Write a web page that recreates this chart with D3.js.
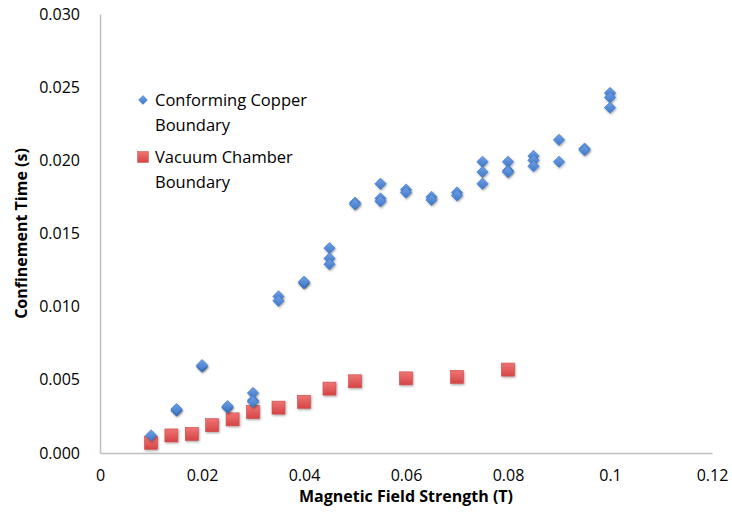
<!DOCTYPE html>
<html>
<head>
<meta charset="utf-8">
<script src="https://cdn.jsdelivr.net/npm/d3@7"></script>
<style>
  html, body { margin: 0; padding: 0; background: #fff; }
  svg { display: block; }
  text { font-family: "Open Sans", "Noto Sans", sans-serif; fill: #000; }
</style>
</head>
<body>
<svg id="chart" width="732" height="512"></svg>
<script>
// ---- data ----
const copperX = [0.01, 0.015, 0.015, 0.02, 0.02, 0.025, 0.025, 0.03, 0.03, 0.03,
  0.035, 0.035, 0.04, 0.04, 0.045, 0.045, 0.045, 0.05, 0.05,
  0.055, 0.055, 0.055, 0.06, 0.06, 0.065, 0.065, 0.07, 0.07,
  0.075, 0.075, 0.075, 0.08, 0.08, 0.08, 0.085, 0.085, 0.085,
  0.09, 0.09, 0.095, 0.095, 0.1, 0.1, 0.1];
const copperY = [0.0012, 0.0029, 0.0030, 0.0059, 0.0060, 0.0031, 0.0032, 0.0041, 0.0036, 0.0035,
  0.0107, 0.0104, 0.0116, 0.0117, 0.0140, 0.0133, 0.0129, 0.0171, 0.0170,
  0.0184, 0.0174, 0.0172, 0.0180, 0.0178, 0.0175, 0.0173, 0.0178, 0.0176,
  0.0199, 0.0192, 0.0184, 0.0199, 0.0193, 0.0192, 0.0203, 0.0200, 0.0196,
  0.0214, 0.0199, 0.0208, 0.0207, 0.0246, 0.0243, 0.0236];
const vacuumX = [0.01, 0.014, 0.018, 0.022, 0.026, 0.03, 0.035, 0.04, 0.045, 0.05, 0.06, 0.07, 0.08];
const vacuumY = [0.0007, 0.0012, 0.0013, 0.0019, 0.0023, 0.0028, 0.0031, 0.0035, 0.0044, 0.0049, 0.0051, 0.0052, 0.0057];
const xTicks = [0, 0.02, 0.04, 0.06, 0.08, 0.1, 0.12];
const xTickLabels = ["0", "0.02", "0.04", "0.06", "0.08", "0.1", "0.12"];
const yTicks = [0, 0.005, 0.01, 0.015, 0.02, 0.025, 0.03];
const yTickLabels = ["0.000", "0.005", "0.010", "0.015", "0.020", "0.025", "0.030"];
const seriesNames = ["Conforming Copper\nBoundary", "Vacuum Chamber\nBoundary"];
const xTitle = "Magnetic Field Strength (T)";
const yTitle = "Confinement Time (s)";

// ---- layout ----
const svg = d3.select("#chart");
const pLeft = 100, pRight = 712, pTop = 14, pBottom = 453;
const x = d3.scaleLinear().domain([0, 0.12]).range([pLeft, pRight]);
const y = d3.scaleLinear().domain([0, 0.03]).range([pBottom, pTop]);

const defs = svg.append("defs");
const gb = defs.append("linearGradient").attr("id", "gBlue").attr("x1", 0).attr("y1", 0).attr("x2", 0).attr("y2", 1);
gb.append("stop").attr("offset", "0%").attr("stop-color", "#6fa0e6");
gb.append("stop").attr("offset", "100%").attr("stop-color", "#3f78c9");
const gr = defs.append("linearGradient").attr("id", "gRed").attr("x1", 0).attr("y1", 0).attr("x2", 0).attr("y2", 1);
gr.append("stop").attr("offset", "0%").attr("stop-color", "#f07474");
gr.append("stop").attr("offset", "100%").attr("stop-color", "#d64545");
const sh = defs.append("filter").attr("id", "shadow").attr("x", "-50%").attr("y", "-50%").attr("width", "200%").attr("height", "200%");
sh.append("feDropShadow").attr("dx", 0.8).attr("dy", 1.2).attr("stdDeviation", 0.9).attr("flood-color", "#000").attr("flood-opacity", 0.35);

// axes
const xAxis = d3.axisBottom(x).tickValues(xTicks).tickFormat((d, i) => xTickLabels[i]).tickSize(0).tickPadding(17);
const yAxis = d3.axisLeft(y).tickValues(yTicks).tickFormat((d, i) => yTickLabels[i]).tickSize(0).tickPadding(20);

const gx = svg.append("g").attr("transform", `translate(0,${pBottom})`).call(xAxis);
const gy = svg.append("g").attr("transform", `translate(${pLeft},0)`).call(yAxis);
[gx, gy].forEach(g => {
  g.select(".domain").attr("stroke", "#bfbfbf").attr("stroke-width", 1.5);
  g.selectAll("text").attr("font-size", 16).attr("font-family", "'Open Sans', sans-serif").attr("fill", "#000");
});
gx.selectAll(".tick text").attr("dy", "0.71em");

// axis titles
svg.append("text").attr("x", (pLeft + pRight) / 2).attr("y", 502)
  .attr("text-anchor", "middle").attr("font-weight", "bold").attr("font-size", 16)
  .text(xTitle);
svg.append("text").attr("transform", `translate(27,${(pTop + pBottom) / 2}) rotate(-90)`)
  .attr("text-anchor", "middle").attr("font-weight", "bold").attr("font-size", 16)
  .text(yTitle);

// markers
const diamond = d3.symbol().type(d3.symbolDiamond2).size(82);
const copper = copperX.map((v, i) => [v, copperY[i]]);
const vacuum = vacuumX.map((v, i) => [v, vacuumY[i]]);

svg.append("g").selectAll("rect").data(vacuum).join("rect")
  .attr("x", d => x(d[0]) - 6.5).attr("y", d => y(d[1]) - 6.5)
  .attr("width", 13).attr("height", 13)
  .attr("fill", "url(#gRed)").attr("stroke", "#c94a4a").attr("stroke-width", 0.6)
  .attr("filter", "url(#shadow)");

svg.append("g").selectAll("path").data(copper).join("path")
  .attr("d", diamond)
  .attr("transform", d => `translate(${x(d[0])},${y(d[1])})`)
  .attr("fill", "url(#gBlue)").attr("stroke", "#3a6fbd").attr("stroke-width", 0.6)
  .attr("filter", "url(#shadow)");

// legend
const leg = svg.append("g");
const legendItems = [
  { name: seriesNames[0], yy: 100, kind: "diamond" },
  { name: seriesNames[1], yy: 157, kind: "square" }
];
legendItems.forEach(it => {
  if (it.kind === "diamond") {
    leg.append("path").attr("d", d3.symbol().type(d3.symbolDiamond2).size(50)())
      .attr("transform", `translate(143,${it.yy})`)
      .attr("fill", "url(#gBlue)").attr("stroke", "#3a6fbd").attr("stroke-width", 0.5);
  } else {
    leg.append("rect").attr("x", 137.5).attr("y", it.yy - 5.5).attr("width", 11).attr("height", 11)
      .attr("fill", "url(#gRed)").attr("stroke", "#c94a4a").attr("stroke-width", 0.5);
  }
  const lines = it.name.split("\n");
  const t = leg.append("text").attr("x", 155).attr("y", it.yy + 6).attr("font-size", 16.5);
  lines.forEach((ln, k) => {
    t.append("tspan").attr("x", 155).attr("dy", k === 0 ? 0 : 25).text(ln);
  });
});
</script>
</body>
</html>
